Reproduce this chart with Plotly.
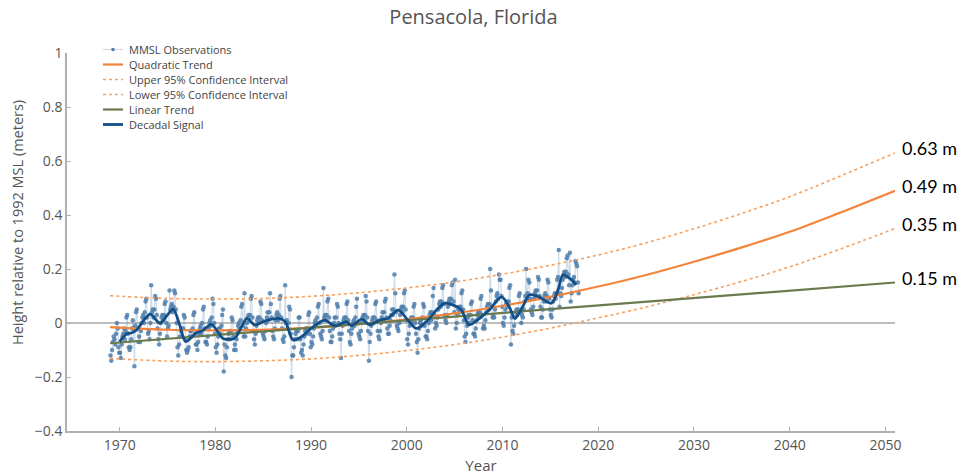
import numpy as np
import plotly.graph_objects as go

# Monthly mean sea level (m, relative to 1992 MSL), one row per year starting 1969
obs_start_year = 1969
obs_monthly = [
    [-0.12, -0.14, -0.10, -0.07, -0.05, -0.06, -0.08, -0.04, 0.00, -0.02, -0.09, -0.11],
    [-0.11, -0.13, -0.08, -0.05, -0.04, -0.02, -0.06, -0.03, 0.02, 0.03, -0.04, -0.09],
    [-0.10, -0.09, -0.06, -0.02, 0.01, -0.02, -0.16, -0.01, 0.04, 0.05, -0.02, -0.07],
    [-0.05, -0.07, -0.03, 0.00, 0.02, 0.03, 0.00, 0.04, 0.08, 0.09, 0.02, -0.04],
    [-0.03, -0.06, 0.00, 0.14, 0.04, 0.05, 0.02, 0.05, 0.10, 0.09, 0.03, -0.02],
    [-0.06, -0.08, -0.04, 0.00, 0.02, 0.03, 0.01, 0.03, 0.07, 0.08, 0.00, -0.05],
    [-0.02, -0.01, 0.12, 0.05, 0.06, 0.07, 0.04, 0.06, 0.12, 0.11, 0.05, 0.00],
    [-0.09, -0.12, -0.08, -0.05, -0.03, -0.02, -0.05, -0.02, 0.03, 0.02, -0.06, -0.10],
    [-0.11, -0.10, -0.09, -0.05, -0.03, -0.03, -0.05, -0.02, 0.03, 0.04, -0.04, -0.08],
    [-0.08, -0.10, -0.07, -0.04, -0.02, -0.01, -0.04, 0.00, 0.05, 0.06, -0.02, -0.07],
    [-0.07, -0.08, -0.05, -0.02, 0.00, 0.01, -0.01, 0.02, 0.09, 0.07, 0.00, -0.04],
    [-0.09, -0.11, -0.08, -0.05, -0.02, -0.02, -0.04, -0.01, 0.03, 0.05, -0.18, -0.08],
    [-0.12, -0.13, -0.09, -0.06, -0.04, -0.03, -0.06, -0.03, 0.02, 0.01, -0.05, -0.10],
    [-0.08, -0.10, -0.06, -0.03, -0.01, 0.00, -0.02, 0.01, 0.06, 0.07, -0.01, -0.05],
    [0.11, -0.05, -0.02, 0.00, 0.02, 0.03, 0.01, 0.03, 0.09, 0.10, 0.02, -0.03],
    [-0.06, -0.08, -0.04, -0.01, 0.01, 0.02, 0.00, 0.02, 0.08, 0.07, 0.01, -0.04],
    [-0.05, -0.06, -0.03, 0.00, 0.02, 0.04, 0.01, 0.04, 0.11, 0.07, 0.02, -0.03],
    [-0.05, -0.06, -0.02, 0.01, 0.03, 0.04, 0.01, 0.03, 0.09, 0.10, 0.02, -0.02],
    [-0.06, -0.07, -0.05, 0.14, 0.00, 0.01, -0.02, 0.00, 0.06, 0.05, -0.04, -0.20],
    [-0.12, -0.12, -0.09, -0.06, -0.04, -0.03, -0.06, -0.03, 0.02, 0.02, -0.06, -0.11],
    [-0.10, -0.12, -0.08, -0.05, -0.03, -0.02, -0.04, -0.02, 0.03, 0.04, -0.04, -0.09],
    [-0.07, -0.08, -0.05, -0.02, 0.00, 0.01, -0.01, 0.02, 0.06, 0.07, 0.00, -0.04],
    [-0.05, -0.06, -0.03, 0.13, 0.02, 0.03, 0.01, 0.03, 0.08, 0.09, 0.02, -0.03],
    [-0.07, -0.07, -0.05, -0.02, 0.00, 0.02, -0.01, 0.02, 0.07, 0.06, 0.00, -0.04],
    [-0.06, -0.13, -0.04, -0.01, 0.01, 0.02, 0.00, 0.02, 0.07, 0.08, 0.01, -0.03],
    [-0.07, -0.08, -0.04, -0.02, 0.00, 0.01, -0.01, 0.02, 0.06, 0.09, 0.00, -0.04],
    [-0.05, -0.06, -0.03, 0.00, 0.02, 0.03, 0.01, 0.03, 0.10, 0.08, 0.02, -0.03],
    [-0.14, -0.07, -0.04, -0.01, 0.01, 0.02, 0.00, 0.02, 0.07, 0.08, 0.01, -0.03],
    [-0.05, -0.06, -0.03, 0.00, 0.02, 0.04, 0.01, 0.04, 0.08, 0.09, 0.02, -0.02],
    [-0.04, -0.04, -0.01, 0.01, 0.03, 0.05, 0.03, 0.05, 0.18, 0.11, 0.04, -0.01],
    [-0.02, -0.03, 0.00, 0.03, 0.05, 0.06, 0.04, 0.06, 0.11, 0.12, 0.05, 0.01],
    [-0.06, -0.08, -0.04, -0.01, 0.01, 0.02, 0.00, 0.02, 0.06, 0.07, 0.00, -0.04],
    [-0.07, -0.11, -0.06, -0.02, 0.00, 0.01, -0.01, 0.02, 0.07, 0.06, -0.01, -0.05],
    [-0.05, -0.06, -0.03, 0.00, 0.03, 0.04, 0.01, 0.04, 0.10, 0.13, 0.03, -0.02],
    [0.00, -0.01, 0.02, 0.05, 0.07, 0.08, 0.06, 0.08, 0.13, 0.14, 0.07, 0.03],
    [0.01, 0.00, 0.03, 0.06, 0.08, 0.09, 0.07, 0.09, 0.14, 0.15, 0.08, 0.04],
    [0.16, -0.02, 0.00, 0.03, 0.05, 0.06, 0.04, 0.06, 0.11, 0.12, 0.05, 0.01],
    [-0.05, -0.07, -0.04, -0.01, 0.02, 0.03, 0.00, 0.03, 0.07, 0.08, 0.01, -0.04],
    [-0.04, -0.05, -0.02, 0.01, 0.03, 0.04, 0.02, 0.04, 0.09, 0.10, 0.03, -0.02],
    [-0.01, -0.02, 0.01, 0.04, 0.06, 0.07, 0.05, 0.07, 0.20, 0.12, 0.06, 0.02],
    [0.03, 0.02, 0.05, 0.08, 0.10, 0.11, 0.09, 0.18, 0.16, 0.16, 0.10, 0.06],
    [0.00, -0.01, 0.02, 0.05, 0.07, 0.08, 0.06, 0.08, 0.13, 0.14, -0.08, 0.02],
    [-0.03, -0.04, -0.01, 0.02, 0.04, 0.05, 0.03, 0.05, 0.10, 0.11, 0.04, 0.00],
    [0.03, 0.02, 0.05, 0.08, 0.10, 0.20, 0.09, 0.11, 0.16, 0.15, 0.09, 0.05],
    [0.04, 0.03, 0.06, 0.09, 0.11, 0.12, 0.10, 0.12, 0.17, 0.16, 0.10, 0.06],
    [0.02, 0.02, 0.05, 0.08, 0.10, 0.11, 0.08, 0.10, 0.16, 0.15, 0.09, 0.05],
    [0.03, 0.02, 0.05, 0.08, 0.10, 0.11, 0.09, 0.11, 0.16, 0.17, 0.27, 0.06],
    [0.11, 0.10, 0.13, 0.16, 0.18, 0.19, 0.17, 0.19, 0.24, 0.25, 0.18, 0.14],
    [0.26, 0.08, 0.11, 0.14, 0.16, 0.17, 0.15, 0.23, 0.22, 0.21, 0.15, 0.11],
]

# Low-pass filtered (decadal) signal
decadal_years = [1970.0, 1970.75, 1971.3, 1971.8, 1972.5, 1973.2, 1974.2, 1975.0, 1975.6,
                 1976.3, 1976.9, 1978.0, 1978.6, 1979.6, 1980.8, 1982.0, 1983.3, 1984.1,
                 1985.2, 1986.6, 1987.3, 1988.1, 1989.0, 1990.0, 1991.4, 1992.5, 1993.7,
                 1994.2, 1995.3, 1996.1, 1997.2, 1998.0, 1999.1, 2000.1, 2001.0, 2002.2,
                 2003.1, 2003.9, 2004.8, 2005.7, 2006.5, 2007.6, 2008.6, 2009.9, 2010.7,
                 2011.3, 2012.1, 2012.8, 2013.8, 2015.1, 2015.8, 2016.3, 2017.0, 2017.7]
decadal_values = [-0.069, -0.040, -0.036, -0.025, 0.010, 0.033, -0.001, 0.030, 0.051,
                  -0.010, -0.069, -0.036, -0.030, -0.005, -0.057, -0.057, 0.017, -0.007,
                  0.008, 0.017, 0.005, -0.063, -0.051, -0.020, 0.011, -0.011, 0.005,
                  -0.010, 0.014, -0.007, 0.011, 0.017, 0.048, 0.011, -0.020, 0.011,
                  0.048, 0.073, 0.067, 0.048, -0.007, 0.017, 0.048, 0.097, 0.060,
                  0.017, 0.060, 0.104, 0.097, 0.073, 0.122, 0.178, 0.166, 0.141]

# Fitted trends and projection to 2050
trend_years = [1969, 1975, 1980, 1985, 1990, 1995, 2000, 2005, 2010, 2015,
               2020, 2025, 2030, 2035, 2040, 2045, 2051]
quadratic_trend = [-0.015, -0.025, -0.027, -0.025, -0.017, -0.004, 0.014, 0.036, 0.064, 0.097,
                   0.135, 0.178, 0.227, 0.280, 0.338, 0.405, 0.49]
upper_95 = [0.101, 0.091, 0.089, 0.091, 0.099, 0.112, 0.130, 0.152, 0.181, 0.214,
            0.252, 0.297, 0.349, 0.406, 0.468, 0.540, 0.63]
lower_95 = [-0.131, -0.141, -0.143, -0.140, -0.133, -0.120, -0.102, -0.080, -0.052, -0.019,
            0.019, 0.059, 0.105, 0.154, 0.208, 0.270, 0.35]
linear_years = [1969, 2051]
linear_trend = [-0.075, 0.15]

x_ticks = [1970, 1980, 1990, 2000, 2010, 2020, 2030, 2040, 2050]
y_ticks = [-0.4, -0.2, 0, 0.2, 0.4, 0.6, 0.8, 1]

C_OBS = "#4f7eab"
C_OBS_LINE = "rgba(79,126,171,0.28)"
C_QUAD = "#f4843a"
C_CI = "#f7a05e"
C_LIN = "#6a7a4c"
C_DEC = "#134f87"
FONT = "Open Sans"
GREY = "#555555"

obs = np.array(obs_monthly)
obs_x = (obs_start_year + np.arange(obs.shape[0])[:, None]
         + (np.arange(12)[None, :] + 0.5) / 12.0).ravel()
obs_y = obs.ravel()

fig = go.Figure()
fig.add_trace(go.Scatter(x=obs_x, y=obs_y, mode="lines+markers", name="MMSL Observations",
                         line=dict(color=C_OBS_LINE, width=1.2),
                         marker=dict(color=C_OBS, size=4.5, opacity=0.85)))
fig.add_trace(go.Scatter(x=trend_years, y=quadratic_trend, mode="lines", name="Quadratic Trend",
                         line=dict(color=C_QUAD, width=2.2, shape="spline")))
fig.add_trace(go.Scatter(x=trend_years, y=upper_95, mode="lines",
                         name="Upper 95% Confidence Interval",
                         line=dict(color=C_CI, width=1.6, dash="dot", shape="spline")))
fig.add_trace(go.Scatter(x=trend_years, y=lower_95, mode="lines",
                         name="Lower 95% Confidence Interval",
                         line=dict(color=C_CI, width=1.6, dash="dot", shape="spline")))
fig.add_trace(go.Scatter(x=linear_years, y=linear_trend, mode="lines", name="Linear Trend",
                         line=dict(color=C_LIN, width=2.2)))
fig.add_trace(go.Scatter(x=decadal_years, y=decadal_values, mode="lines", name="Decadal Signal",
                         line=dict(color=C_DEC, width=2.8, shape="spline", smoothing=0.8)))

# Plot-area geometry in pixels, used to place the hand-drawn legend and labels
W, H = 964, 476
L, R, T, B = 67, 895, 53, 431


def paper_x(px):
    return (px - L) / (R - L)


def paper_y(py):
    return (B - py) / (B - T)


shapes = []
annotations = []
legend_items = [
    ("MMSL Observations", C_OBS_LINE, "solid", 1.2, True),
    ("Quadratic Trend", C_QUAD, "solid", 2.2, False),
    ("Upper 95% Confidence Interval", C_CI, "dot", 1.6, False),
    ("Lower 95% Confidence Interval", C_CI, "dot", 1.6, False),
    ("Linear Trend", C_LIN, "solid", 2.2, False),
    ("Decadal Signal", C_DEC, "solid", 2.8, False),
]
for i, (label, color, dash, width, dot) in enumerate(legend_items):
    py = 49.5 + 15 * i
    shapes.append(dict(type="line", xref="paper", yref="paper",
                       x0=paper_x(103), x1=paper_x(123), y0=paper_y(py), y1=paper_y(py),
                       line=dict(color=color, width=width, dash=dash)))
    if dot:
        shapes.append(dict(type="circle", xref="paper", yref="paper",
                           x0=paper_x(111.2), x1=paper_x(114.8),
                           y0=paper_y(py + 1.8), y1=paper_y(py - 1.8),
                           fillcolor=C_OBS, line=dict(width=0)))
    annotations.append(dict(xref="paper", yref="paper", x=paper_x(127), y=paper_y(py),
                            xanchor="left", yanchor="middle", showarrow=False, text=label,
                            font=dict(family=FONT, size=11, color="#444")))

# End-of-projection values
for val in (upper_95[-1], quadratic_trend[-1], lower_95[-1], linear_trend[-1]):
    annotations.append(dict(xref="paper", yref="y", x=paper_x(900), y=val, yshift=5,
                            xanchor="left", yanchor="middle", showarrow=False,
                            text=f"{val:.2f} m",
                            font=dict(family="Lato", size=18, color="#000")))

annotations.append(dict(xref="paper", yref="paper", x=paper_x(17), y=paper_y(223),
                        xanchor="center", yanchor="middle", showarrow=False, textangle=-90,
                        text="Height relative to 1992 MSL (meters)",
                        font=dict(family=FONT, size=14.5, color=GREY)))

fig.update_layout(
    width=W, height=H,
    margin=dict(l=L, r=W - R, t=T, b=H - B, autoexpand=False),
    paper_bgcolor="white", plot_bgcolor="white",
    showlegend=False,
    title=dict(text="Pensacola, Florida", xref="container", x=473.5 / W,
               yref="container", y=1 - 17 / H, xanchor="center", yanchor="middle",
               font=dict(family=FONT, size=20, color=GREY)),
    xaxis=dict(range=[1964.5, 2051], tickvals=x_ticks, showgrid=False, zeroline=False,
               showline=True, linecolor="#b0b0b0", linewidth=1.5,
               ticks="inside", ticklen=4, tickcolor="#b0b0b0",
               tickfont=dict(family=FONT, size=14, color=GREY),
               title=dict(text="Year", font=dict(family=FONT, size=15, color=GREY), standoff=8)),
    yaxis=dict(range=[-0.4, 1], tickvals=y_ticks, showgrid=False,
               zeroline=True, zerolinecolor="#bdbdbd", zerolinewidth=1.5,
               showline=True, linecolor="#b0b0b0", linewidth=1.5,
               ticks="inside", ticklen=4, tickcolor="#b0b0b0",
               tickfont=dict(family=FONT, size=14, color=GREY)),
    shapes=shapes,
    annotations=annotations,
)

fig.write_html("out.html")
